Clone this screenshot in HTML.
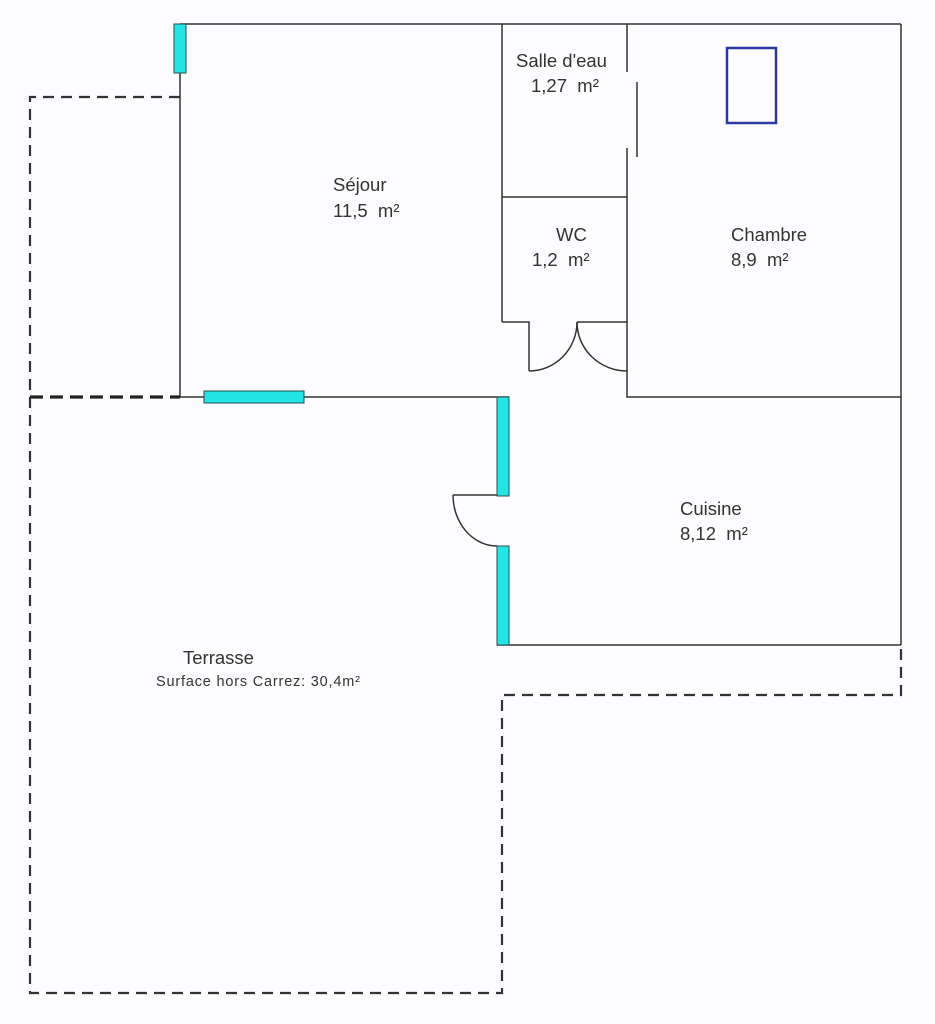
<!DOCTYPE html>
<html><head><meta charset="utf-8"><style>
html,body{margin:0;padding:0;background:#fdfcfe;}
svg{display:block}
text{font-family:"Liberation Sans",Arial,sans-serif;fill:#333;white-space:pre;}
</style></head><body>
<svg width="935" height="1024" viewBox="0 0 935 1024" xmlns="http://www.w3.org/2000/svg" xml:space="preserve">
<rect width="935" height="1024" fill="#fdfcfe"/>
<g fill="none" stroke="#333" stroke-width="1.5">
<line x1="180" y1="24" x2="901" y2="24"/>
<line x1="901" y1="24" x2="901" y2="645"/>
<line x1="180" y1="24" x2="180" y2="397"/>
<line x1="180" y1="397" x2="509" y2="397"/>
<line x1="497" y1="645" x2="901" y2="645"/>
<line x1="502" y1="24" x2="502" y2="322"/>
<line x1="502" y1="197" x2="627" y2="197"/>
<line x1="627" y1="24" x2="627" y2="72"/>
<line x1="627" y1="148" x2="627" y2="322"/>
<line x1="637" y1="82" x2="637" y2="157"/>
<polyline points="502,322 529,322 529,371"/>
<polyline points="577,322 627,322 627,368 627,397 901,397"/>
<path d="M529,371 A48,49 0 0 0 577,322"/>
<path d="M577,322 A50,49 0 0 0 627,371"/>
<line x1="453" y1="495" x2="497" y2="495"/>
<path d="M453,495 A44,51 0 0 0 497,546"/>
</g>
<g fill="none" stroke="#333" stroke-width="2.2" stroke-dasharray="11,7">
<polyline points="180,97 30,97 30,993 502,993 502,695 901,695 901,645"/>
</g>
<line x1="30" y1="397" x2="180" y2="397" stroke="#222" stroke-width="3.2" stroke-dasharray="13,7"/>
<g fill="#22e5e8" stroke="#2a4a4a" stroke-width="1">
<rect x="174" y="24" width="12" height="49"/>
<rect x="204" y="391" width="100" height="12"/>
<rect x="497" y="397" width="12" height="99"/>
<rect x="497" y="546" width="12" height="99"/>
</g>
<rect x="727" y="48" width="49" height="75" fill="none" stroke="#2a3aa0" stroke-width="2.5"/>
<g font-size="18.5">
<text x="333" y="191">Séjour</text>
<text x="333" y="217">11,5  m²</text>
<text x="516" y="67">Salle d'eau</text>
<text x="531" y="92">1,27  m²</text>
<text x="556" y="241">WC</text>
<text x="532" y="266">1,2  m²</text>
<text x="731" y="241">Chambre</text>
<text x="731" y="266">8,9  m²</text>
<text x="680" y="515">Cuisine</text>
<text x="680" y="540">8,12  m²</text>
<text x="183" y="664">Terrasse</text>
</g>
<text x="156" y="686" font-size="14.5" textLength="204">Surface hors Carrez: 30,4m²</text>
</svg>
</body></html>
